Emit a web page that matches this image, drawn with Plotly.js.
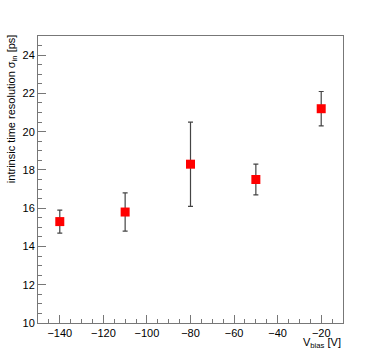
<!DOCTYPE html>
<html>
<head>
<meta charset="utf-8">
<script src="https://cdn.plot.ly/plotly-3.0.1.min.js"></script>
<style>
  html, body { margin: 0; padding: 0; background: #fff; }
  #plot { width: 381px; height: 359px; }
</style>
</head>
<body>
<div id="plot"></div>
<script>
// bias voltage [V] and intrinsic time resolution [ps]
var vbias = [-140, -110, -80, -50, -20];
var sigma = [15.3, 15.8, 18.3, 17.5, 21.2];
var sigmaErr = [0.6, 1.0, 2.2, 0.8, 0.9];

var xTicks = [-140, -120, -100, -80, -60, -40, -20];
var yTicks = [10, 12, 14, 16, 18, 20, 22, 24];

var frameColor = "#777";
var font = { family: "Liberation Sans, Arial, sans-serif", size: 11, color: "#000" };

var trace = {
  x: vbias,
  y: sigma,
  mode: "markers",
  type: "scatter",
  marker: { symbol: "square", size: 9, color: "#ff0000" },
  error_y: {
    type: "data",
    array: sigmaErr,
    visible: true,
    color: "#444",
    thickness: 1.2,
    width: 2.5,
  },
  hoverinfo: "none",
};

var layout = {
  width: 381,
  height: 359,
  margin: { l: 38, r: 38, t: 36, b: 36 },
  paper_bgcolor: "#fff",
  plot_bgcolor: "#fff",
  showlegend: false,
  font: font,
  xaxis: {
    range: [-150, -10],
    tickvals: xTicks,
    ticktext: xTicks.map(function (v) { return "\u2212" + Math.abs(v); }),
    ticks: "inside",
    ticklen: 8,
    tickcolor: frameColor,
    tickwidth: 1,
    minor: { dtick: 5, tick0: 0, ticks: "inside", ticklen: 4, tickcolor: frameColor },
    showline: true,
    linecolor: frameColor,
    linewidth: 1,
    mirror: true,
    showgrid: false,
    zeroline: false,
    tickfont: font,
  },
  yaxis: {
    range: [10, 25],
    tickvals: yTicks,
    ticks: "inside",
    ticklen: 8,
    tickcolor: frameColor,
    tickwidth: 1,
    minor: { dtick: 0.5, tick0: 0, ticks: "inside", ticklen: 4, tickcolor: frameColor },
    showline: true,
    linecolor: frameColor,
    linewidth: 1,
    mirror: true,
    showgrid: false,
    zeroline: false,
    tickfont: font,
  },
  annotations: [
    {
      text: "intrinsic time resolution \u03c3<sub>in</sub> [ps]",
      xref: "paper",
      yref: "paper",
      x: -0.085,
      y: 1.012,
      xanchor: "center",
      yanchor: "top",
      textangle: -90,
      showarrow: false,
      font: font,
    },
    {
      text: "V<sub>bias</sub> [V]",
      xref: "paper",
      yref: "paper",
      x: 1.0,
      y: -0.04,
      xanchor: "right",
      yanchor: "top",
      showarrow: false,
      font: font,
    },
  ],
};

Plotly.newPlot("plot", [trace], layout, { staticPlot: true });
</script>
</body>
</html>
